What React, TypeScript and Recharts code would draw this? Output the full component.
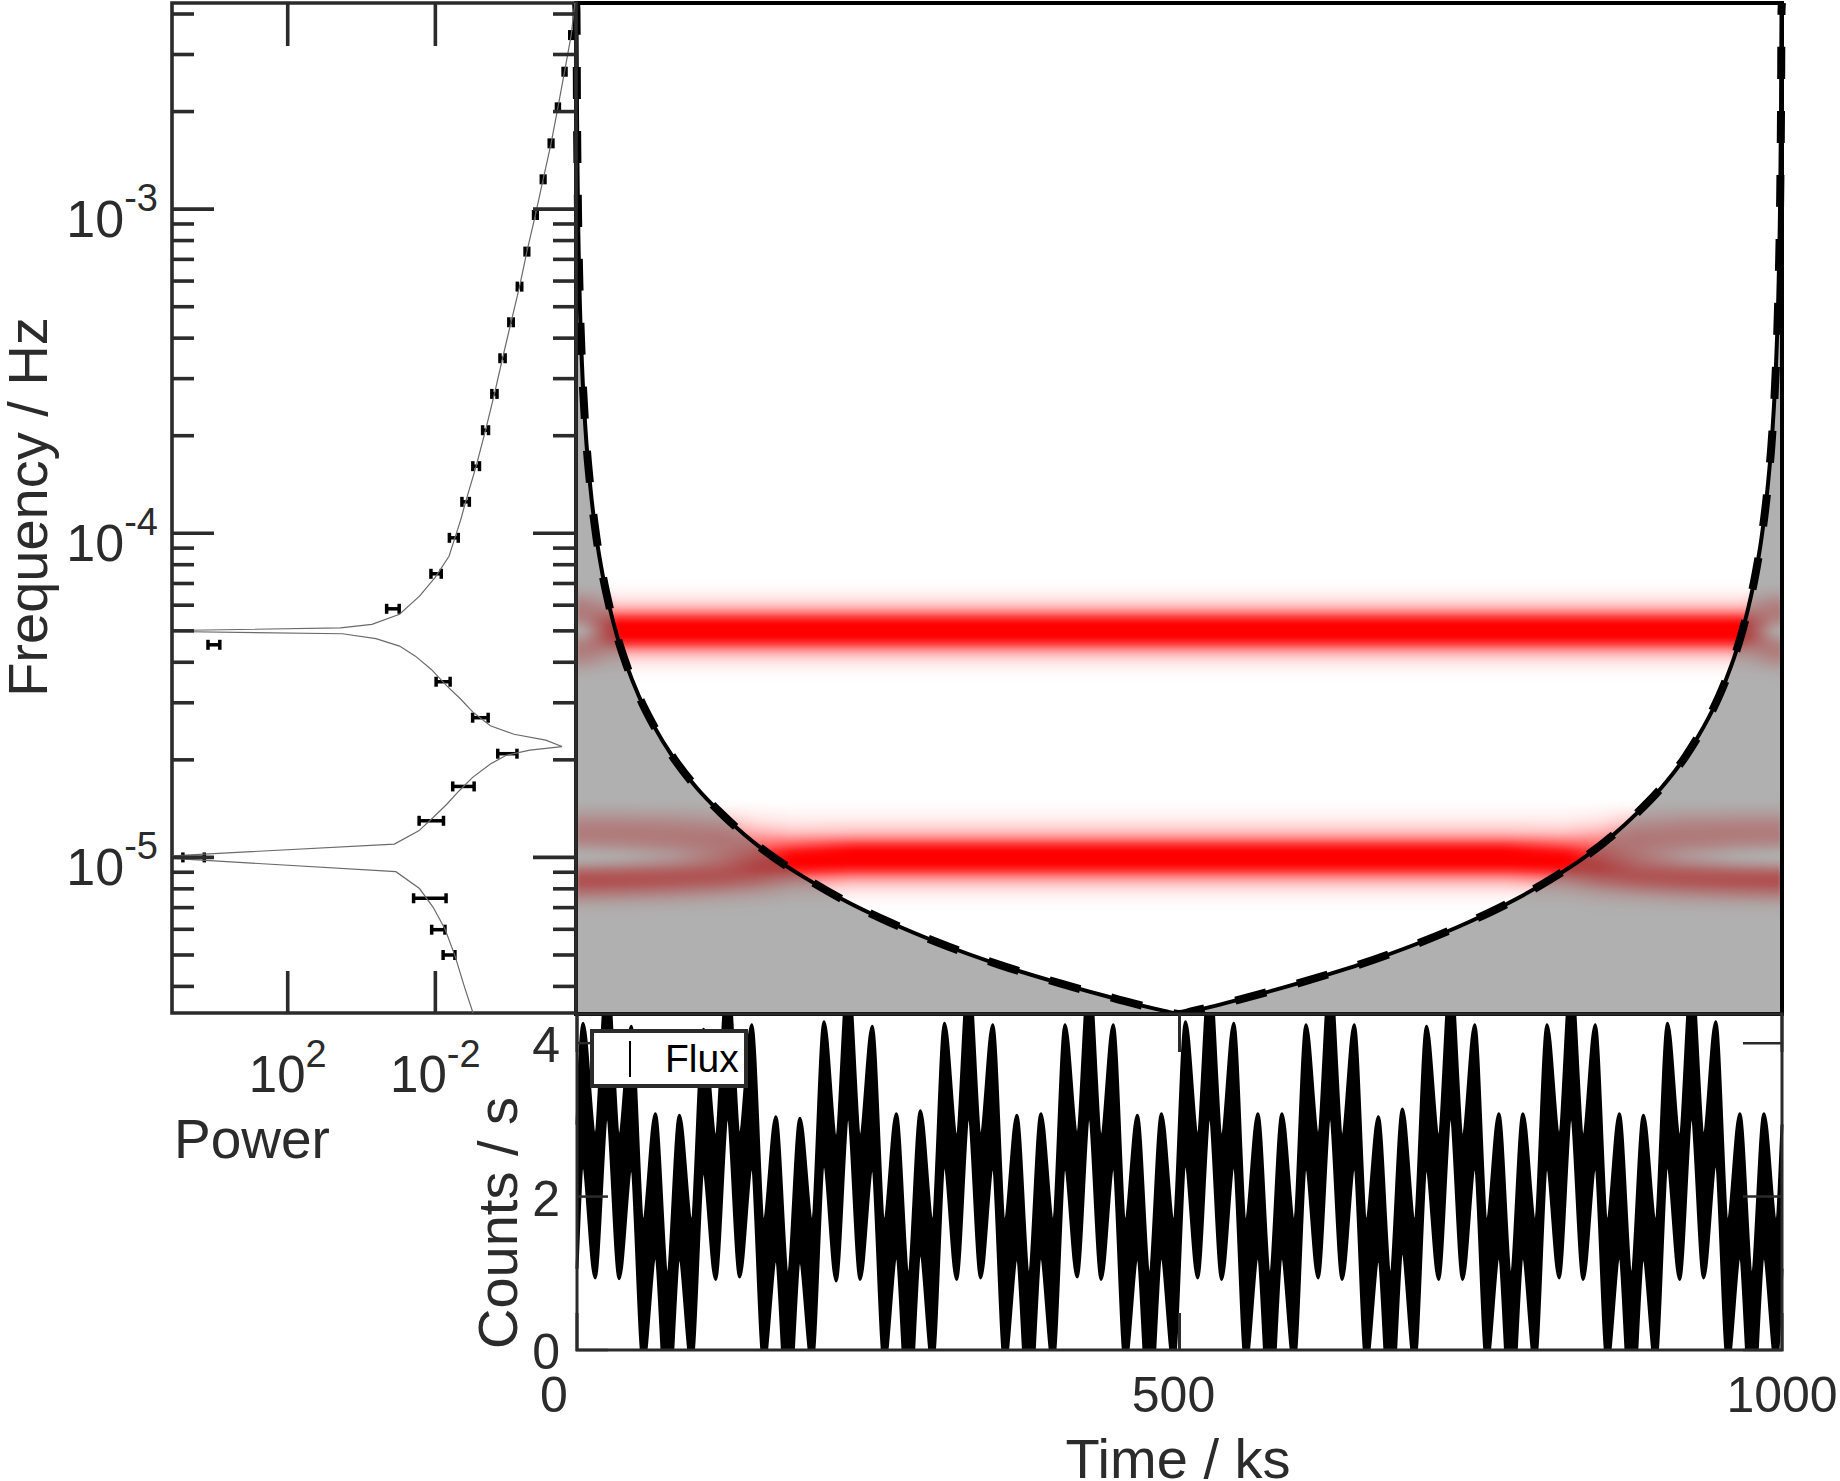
import {
  ComposedChart,
  ScatterChart,
  Scatter,
  Area,
  Line,
  XAxis,
  YAxis,
  ErrorBar,
  ReferenceArea,
  Legend,
} from "recharts"

const FONT = "'Liberation Sans', Arial, sans-serif"
const INK = "#2b2b2b"

// axis limits
const freqMin = 10 ** -5.48
const freqMax = 10 ** -2.364
const powerMin = 10 ** -5.81
const powerMax = 10 ** 5.135
const countsMax = 4.38

const freqTicks = [
  4e-6, 5e-6, 6e-6, 7e-6, 8e-6, 9e-6, 1e-5, 2e-5, 3e-5, 4e-5, 5e-5, 6e-5, 7e-5, 8e-5, 9e-5,
  1e-4, 2e-4, 3e-4, 4e-4, 5e-4, 6e-4, 7e-4, 8e-4, 9e-4, 1e-3, 2e-3, 3e-3, 4e-3,
]
const freqDecades: Record<string, string> = { "0.00001": "-5", "0.0001": "-4", "0.001": "-3" }
const powerTicks = [1e-2, 1e2]
const timeTicks = [0, 500, 1000]
const countTicks = [0, 2, 4]

// binned power spectrum, exponents of the log axes
const binLogFreq = [
  -2.463, -2.576, -2.686, -2.797, -2.908, -3.018, -3.131, -3.239, -3.349, -3.46, -3.57, -3.682, -3.793, -3.903,
  -4.014, -4.125, -4.233, -4.344, -4.458, -4.569, -4.68, -4.781, -4.887, -5.0, -5.126, -5.223, -5.301,
]
const binLogPower = [
  -5.68, -5.5, -5.32, -5.135, -4.92, -4.71, -4.48, -4.28, -4.05, -3.82, -3.6, -3.36, -3.105, -2.82,
  -2.5, -2.02, -0.85, 4.0, -2.21, -3.22, -3.95, -2.76, -1.89, 4.55, -1.85, -2.08, -2.37,
]
const binErrDex = [
  0.04, 0.04, 0.04, 0.05, 0.05, 0.05, 0.05, 0.06, 0.06, 0.07, 0.07, 0.08, 0.09, 0.1,
  0.12, 0.14, 0.17, 0.16, 0.19, 0.21, 0.26, 0.29, 0.33, 0.29, 0.44, 0.18, 0.16,
]

// model spectrum, walked from top to bottom of the panel
const modelLogFreq = [
  -2.364, -2.463, -2.576, -2.686, -2.797, -2.908, -3.018, -3.131, -3.239, -3.349, -3.46, -3.57, -3.682, -3.793, -3.903,
  -3.957, -4.014, -4.071, -4.137, -4.194, -4.25, -4.281, -4.292, -4.3, -4.303, -4.31, -4.325, -4.348, -4.379, -4.42,
  -4.471, -4.512, -4.551, -4.594, -4.62, -4.638, -4.658, -4.669, -4.685, -4.712, -4.753, -4.795, -4.836, -4.877,
  -4.918, -4.959, -4.995, -5.003, -5.044, -5.096, -5.154, -5.221, -5.303, -5.4, -5.48,
]
const modelLogPower = [
  -5.78, -5.68, -5.5, -5.32, -5.135, -4.92, -4.71, -4.48, -4.28, -4.05, -3.82, -3.6, -3.36, -3.105, -2.82,
  -2.69, -2.53, -2.37, -1.99, -1.57, -1.03, -0.28, 0.57, 5.135, 5.135, 0.52, -0.39, -1.03, -1.46, -1.89,
  -2.31, -2.69, -3.01, -3.49, -4.13, -4.99, -5.43, -4.56, -3.92, -3.49, -3.01, -2.64, -2.31, -1.94,
  -1.55, -0.89, 5.135, 5.135, -0.93, -1.57, -1.94, -2.26, -2.53, -2.79, -3.02,
]

// cone of influence
const coiTime = [
  0, 0.4, 0.8, 1.5, 3, 5, 8, 12, 17, 22, 28, 34, 42, 52, 65, 80, 100, 120, 140, 165, 190, 220, 260, 300, 350, 400, 450,
  490, 500, 510, 550, 600, 650, 700, 740, 780, 810, 835, 860, 880, 900, 920, 935, 948, 958, 966, 972, 978, 983, 988,
  992, 995, 997, 998.5, 999.2, 999.6, 1000,
]
const coiFreq = [
  4.33e-3, 4.1e-3, 2.06e-3, 1.1e-3, 5.5e-4, 3.3e-4, 2.06e-4, 1.38e-4, 9.7e-5, 7.5e-5, 5.9e-5, 4.85e-5, 3.93e-5, 3.17e-5,
  2.54e-5, 2.06e-5, 1.65e-5, 1.38e-5, 1.18e-5, 1.0e-5, 8.7e-6, 7.5e-6, 6.35e-6, 5.5e-6, 4.71e-6, 4.13e-6, 3.67e-6,
  3.37e-6, 3.31e-6, 3.37e-6, 3.67e-6, 4.13e-6, 4.71e-6, 5.5e-6, 6.35e-6, 7.5e-6, 8.7e-6, 1.0e-5, 1.18e-5, 1.38e-5,
  1.65e-5, 2.06e-5, 2.54e-5, 3.17e-5, 3.93e-5, 4.85e-5, 5.9e-5, 7.5e-5, 9.7e-5, 1.38e-4, 2.06e-4, 3.3e-4, 5.5e-4,
  1.1e-3, 2.06e-3, 4.1e-3, 4.33e-3,
]

// wavelet power around the 5e-5 Hz line, rows are frequencies, one list per time column
const upperRowExp = [-4.16, -4.18, -4.2, -4.22, -4.24, -4.26, -4.28, -4.3, -4.32, -4.34, -4.36, -4.38, -4.4, -4.42, -4.44, -4.46]
const upperColumns = [0, 8, 16, 25, 35]
const upperLevels = [
  [0.02, 0.1, 0.27, 0.4, 0.46, 0.42, 0.22, 0.03, 0.18, 0.38, 0.46, 0.4, 0.27, 0.12, 0.04, 0],
  [0.02, 0.1, 0.25, 0.4, 0.46, 0.44, 0.3, 0.14, 0.26, 0.42, 0.46, 0.38, 0.25, 0.11, 0.03, 0],
  [0.02, 0.08, 0.2, 0.34, 0.46, 0.54, 0.55, 0.46, 0.52, 0.52, 0.46, 0.33, 0.2, 0.09, 0.02, 0],
  [0.01, 0.05, 0.14, 0.27, 0.45, 0.66, 0.8, 0.82, 0.8, 0.64, 0.42, 0.26, 0.13, 0.05, 0.01, 0],
  [0.01, 0.04, 0.1, 0.22, 0.44, 0.78, 1, 1, 1, 0.78, 0.44, 0.22, 0.1, 0.04, 0.01, 0],
]

// same around the 1e-5 Hz line
const lowerRowExp = [-4.84, -4.86, -4.88, -4.9, -4.92, -4.94, -4.96, -4.98, -5.0, -5.02, -5.04, -5.06, -5.08, -5.1, -5.12, -5.14, -5.16]
const lowerColumns = [0, 40, 80, 120, 150, 180, 230]
const lowerLevels = [
  [0.05, 0.15, 0.28, 0.4, 0.45, 0.42, 0.28, 0.08, 0, 0.18, 0.55, 0.8, 0.82, 0.62, 0.38, 0.16, 0.04],
  [0.05, 0.15, 0.28, 0.4, 0.46, 0.44, 0.32, 0.14, 0.07, 0.26, 0.6, 0.8, 0.8, 0.58, 0.34, 0.14, 0.04],
  [0.05, 0.14, 0.26, 0.38, 0.46, 0.47, 0.4, 0.27, 0.24, 0.4, 0.67, 0.8, 0.74, 0.52, 0.28, 0.12, 0.03],
  [0.03, 0.1, 0.2, 0.32, 0.44, 0.5, 0.5, 0.5, 0.54, 0.64, 0.76, 0.8, 0.66, 0.42, 0.2, 0.08, 0.02],
  [0.02, 0.05, 0.1, 0.18, 0.3, 0.44, 0.56, 0.7, 0.8, 0.92, 0.92, 0.74, 0.54, 0.3, 0.14, 0.05, 0.01],
  [0.01, 0.03, 0.07, 0.13, 0.23, 0.42, 0.66, 0.9, 1, 1, 0.88, 0.58, 0.33, 0.16, 0.07, 0.02, 0],
  [0.01, 0.03, 0.07, 0.14, 0.25, 0.48, 0.8, 1, 1, 1, 0.8, 0.48, 0.25, 0.12, 0.05, 0.02, 0],
]

// light curve, extrema of the oscillation, the error bars are dense enough to fill a band
const fluxTime = [
  0, 5, 15, 25, 35, 45, 55, 65, 75, 85, 95, 105, 115, 125, 135, 145, 155, 165, 175, 185, 195,
  205, 215, 225, 235, 245, 255, 265, 275, 285, 295, 305, 315, 325, 335, 345, 355, 365, 375, 385, 395,
  405, 415, 425, 435, 445, 455, 465, 475, 485, 495, 505, 515, 525, 535, 545, 555, 565, 575, 585, 595,
  605, 615, 625, 635, 645, 655, 665, 675, 685, 695, 705, 715, 725, 735, 745, 755, 765, 775, 785, 795,
  805, 815, 825, 835, 845, 855, 865, 875, 885, 895, 905, 915, 925, 935, 945, 955, 965, 975, 985, 995, 1000,
]
const flux = [
  2.0, 3.32, 1.88, 3.95, 1.87, 3.28, 0.76, 2.14, 0.07, 2.12, 0.76, 3.24, 1.86, 3.95, 1.89, 3.3, 0.76, 2.1, 0.07, 2.08, 0.76,
  3.34, 1.84, 3.95, 1.86, 3.28, 0.76, 2.14, 0.07, 2.18, 0.76, 3.32, 1.86, 3.95, 1.88, 3.3, 0.76, 2.12, 0.07, 2.14, 0.76,
  3.3, 1.89, 3.95, 1.86, 3.3, 0.76, 2.12, 0.07, 2.14, 0.76, 3.34, 1.88, 3.95, 1.86, 3.32, 0.76, 2.14, 0.07, 2.14, 0.76,
  3.3, 1.88, 3.95, 1.86, 3.3, 0.76, 2.1, 0.07, 2.2, 0.76, 3.28, 1.86, 3.95, 1.86, 3.3, 0.76, 2.14, 0.07, 2.14, 0.76,
  3.3, 1.88, 3.95, 1.86, 3.3, 0.76, 2.14, 0.07, 2.12, 0.76, 3.32, 1.86, 3.95, 1.88, 3.34, 0.76, 2.14, 0.07, 2.14, 0.76, 2.0,
]
const fluxErr = 0.94

const binData = binLogFreq.map((f, i) => {
  const power = 10 ** binLogPower[i]
  return {
    power,
    freq: 10 ** f,
    err: [power - power / 10 ** binErrDex[i], power * 10 ** binErrDex[i] - power],
  }
})
const modelData = modelLogFreq.map((f, i) => ({ power: 10 ** modelLogPower[i], freq: 10 ** f }))
const coiData = coiTime.map((t, i) => ({ t, freq: coiFreq[i] }))
const fluxData = fluxTime.map((t, i) => ({ t, band: [flux[i] - fluxErr, flux[i] + fluxErr] }))

const levelColor = (level: number) => {
  const g = Math.round(255 * (1 - level))
  return `rgb(255,${g},${g})`
}

// one stripe per frequency row, its colour runs along time and mirrors at the far edge
const buildRows = (rowExp: number[], columns: number[], levels: number[][], name: string) =>
  rowExp.map((exp, r) => ({
    id: `${name}-${r}`,
    y1: 10 ** (exp - 0.012),
    y2: 10 ** (exp + 0.012),
    stops: [
      ...columns.map((t, c) => ({ t, level: levels[c][r] })),
      ...columns.map((t, c) => ({ t: 1000 - t, level: levels[c][r] })).reverse(),
    ],
  }))

const heatRows = [
  ...buildRows(upperRowExp, upperColumns, upperLevels, "upper"),
  ...buildRows(lowerRowExp, lowerColumns, lowerLevels, "lower"),
]

function HeatLayer() {
  return (
    <div style={{ position: "absolute", left: 576, top: 3, width: 1206, height: 1011, overflow: "hidden" }}>
      <div style={{ filter: "blur(2.5px)" }}>
        <ComposedChart width={1206} height={1011} data={coiData} margin={{ top: 0, right: 0, bottom: 0, left: 0 }}>
          <defs>
            {heatRows.map((row) => (
              <linearGradient key={row.id} id={row.id} x1="0" y1="0" x2="1" y2="0">
                {row.stops.map((s, i) => (
                  <stop key={i} offset={s.t / 1000} stopColor={levelColor(s.level)} />
                ))}
              </linearGradient>
            ))}
          </defs>
          <XAxis dataKey="t" type="number" domain={[0, 1000]} hide />
          <YAxis type="number" scale="log" domain={[freqMin, freqMax]} allowDataOverflow hide />
          {heatRows.map((row) => (
            <ReferenceArea
              key={row.id}
              x1={0}
              x2={1000}
              y1={row.y1}
              y2={row.y2}
              fill={`url(#${row.id})`}
              fillOpacity={1}
              stroke="none"
            />
          ))}
        </ComposedChart>
      </div>
    </div>
  )
}

function MainLayer() {
  return (
    <div style={{ position: "absolute", left: 0, top: 0 }}>
      <ComposedChart width={1840} height={1481} data={coiData} margin={{ top: 3, right: 58, bottom: 467, left: 576 }}>
        <XAxis dataKey="t" type="number" domain={[0, 1000]} hide />
        <YAxis type="number" scale="log" domain={[freqMin, freqMax]} allowDataOverflow hide />
        <Area
          dataKey="freq"
          type="monotoneX"
          baseValue={freqMin}
          stroke="none"
          fill="#6e6e6e"
          fillOpacity={0.545}
          isAnimationActive={false}
        />
        <Line dataKey="freq" type="monotoneX" stroke="#000" strokeWidth={4} dot={false} isAnimationActive={false} />
        <Line
          dataKey="freq"
          type="monotoneX"
          stroke="#000"
          strokeWidth={8}
          strokeDasharray="32 32"
          dot={false}
          isAnimationActive={false}
        />
        <ReferenceArea
          x1={0}
          x2={1000}
          y1={freqMin}
          y2={freqMax}
          fill="none"
          stroke="#000"
          strokeWidth={4}
          ifOverflow="visible"
        />
      </ComposedChart>
    </div>
  )
}

function FreqTick({ y, payload }: any) {
  const exponent = freqDecades[String(payload.value)]
  const major = exponent !== undefined
  const len = major ? 43 : 23
  return (
    <g>
      <line x1={171} x2={171 + len} y1={y} y2={y} stroke={INK} strokeWidth={3.6} />
      <line x1={576} x2={576 - len} y1={y} y2={y} stroke={INK} strokeWidth={3.6} />
      {major && (
        <text x={158} y={y + 28} textAnchor="end" fontSize={52} fontFamily={FONT} fill={INK}>
          10
          <tspan dy={-26} fontSize={38}>
            {exponent}
          </tspan>
        </text>
      )}
    </g>
  )
}

function PowerTick({ x, payload }: any) {
  return (
    <g>
      <line x1={x} x2={x} y1={3} y2={46} stroke={INK} strokeWidth={3.6} />
      <line x1={x} x2={x} y1={1014} y2={971} stroke={INK} strokeWidth={3.6} />
      <text x={x} y={1092} textAnchor="middle" fontSize={51} fontFamily={FONT} fill={INK}>
        10
        <tspan dy={-25} fontSize={38}>
          {payload.value > 1 ? "2" : "-2"}
        </tspan>
      </text>
    </g>
  )
}

function PowerLayer() {
  return (
    <div style={{ position: "absolute", left: 0, top: 0 }}>
      <ScatterChart width={1840} height={1481} margin={{ top: 3, right: 1264, bottom: 467, left: 171 }}>
        <XAxis
          dataKey="power"
          type="number"
          scale="log"
          reversed
          domain={[powerMin, powerMax]}
          allowDataOverflow
          ticks={powerTicks}
          interval={0}
          height={1}
          tickLine={false}
          axisLine={false}
          tick={<PowerTick />}
        />
        <YAxis
          dataKey="freq"
          type="number"
          scale="log"
          domain={[freqMin, freqMax]}
          allowDataOverflow
          ticks={freqTicks}
          interval={0}
          width={1}
          tickLine={false}
          axisLine={false}
          tick={<FreqTick />}
        />
        <ReferenceArea
          x1={powerMin}
          x2={powerMax}
          y1={freqMin}
          y2={freqMax}
          fill="none"
          stroke={INK}
          strokeWidth={3.6}
          ifOverflow="visible"
        />
        <Scatter data={binData} shape={() => <g />} isAnimationActive={false}>
          <ErrorBar dataKey="err" direction="x" width={5} strokeWidth={3.5} stroke="#000" isAnimationActive={false} />
        </Scatter>
        <Scatter
          data={modelData}
          line={{ stroke: "#6a6a6a", strokeWidth: 1.2 }}
          lineType="joint"
          shape={() => <g />}
          isAnimationActive={false}
        />
        <text x={174} y={1158} fontSize={55} fontFamily={FONT} fill={INK}>
          Power
        </text>
        <text
          transform="translate(47,507) rotate(-90)"
          textAnchor="middle"
          fontSize={56}
          fontFamily={FONT}
          fill={INK}
        >
          Frequency / Hz
        </text>
      </ScatterChart>
    </div>
  )
}

const timeLabelShift: Record<number, number> = { 0: -23, 500: -6, 1000: 0 }

function TimeTick({ x, payload }: any) {
  return (
    <g>
      <line x1={x} x2={x} y1={1014} y2={1052} stroke={INK} strokeWidth={3} />
      <line x1={x} x2={x} y1={1351} y2={1313} stroke={INK} strokeWidth={3} />
      <text
        x={x + timeLabelShift[payload.value]}
        y={1412}
        textAnchor="middle"
        fontSize={50}
        fontFamily={FONT}
        fill={INK}
      >
        {payload.value}
      </text>
    </g>
  )
}

function CountTick({ y, payload }: any) {
  return (
    <g>
      <line x1={576} x2={608} y1={y} y2={y} stroke={INK} strokeWidth={2.5} />
      <line x1={1782} x2={1743} y1={y} y2={y} stroke={INK} strokeWidth={2.5} />
      <text x={560} y={y + 19} textAnchor="end" fontSize={50} fontFamily={FONT} fill={INK}>
        {payload.value}
      </text>
    </g>
  )
}

function FluxLegend() {
  return (
    <div
      style={{
        width: 150,
        height: 51,
        border: `4px solid ${INK}`,
        background: "#fff",
        position: "relative",
        fontFamily: FONT,
        fontSize: 39,
        color: "#000",
      }}
    >
      <span style={{ position: "absolute", left: 35, top: 8, width: 2, height: 36, background: "#000" }} />
      <span style={{ position: "absolute", left: 71, top: 4, lineHeight: "44px" }}>Flux</span>
    </div>
  )
}

function FluxLayer() {
  return (
    <div style={{ position: "absolute", left: 0, top: 0 }}>
      <ComposedChart width={1840} height={1481} data={fluxData} margin={{ top: 1014, right: 58, bottom: 130, left: 576 }}>
        <XAxis
          dataKey="t"
          type="number"
          domain={[0, 1000]}
          ticks={timeTicks}
          interval={0}
          height={1}
          tickLine={false}
          axisLine={false}
          tick={<TimeTick />}
        />
        <YAxis
          type="number"
          domain={[0, countsMax]}
          allowDataOverflow
          ticks={countTicks}
          interval={0}
          width={1}
          tickLine={false}
          axisLine={false}
          tick={<CountTick />}
        />
        <Area
          dataKey="band"
          name="Flux"
          type="monotoneX"
          stroke="#000"
          strokeWidth={3}
          fill="#000"
          fillOpacity={1}
          isAnimationActive={false}
        />
        <ReferenceArea
          x1={0}
          x2={1000}
          y1={0}
          y2={countsMax}
          fill="none"
          stroke={INK}
          strokeWidth={3}
          ifOverflow="visible"
        />
        <Legend
          verticalAlign="middle"
          layout="horizontal"
          content={<FluxLegend />}
          wrapperStyle={{ left: 590, top: 1029, width: "auto" }}
        />
        <text transform="translate(517,1223) rotate(-90)" textAnchor="middle" fontSize={56} fontFamily={FONT} fill={INK}>
          Counts / s
        </text>
        <text x={1178} y={1478} textAnchor="middle" fontSize={56} fontFamily={FONT} fill={INK}>
          Time / ks
        </text>
      </ComposedChart>
    </div>
  )
}

export default function App() {
  return (
    <div style={{ position: "absolute", left: 0, top: 0, width: 1840, height: 1481, background: "#fff", overflow: "hidden" }}>
      <HeatLayer />
      <MainLayer />
      <FluxLayer />
      <PowerLayer />
    </div>
  )
}
